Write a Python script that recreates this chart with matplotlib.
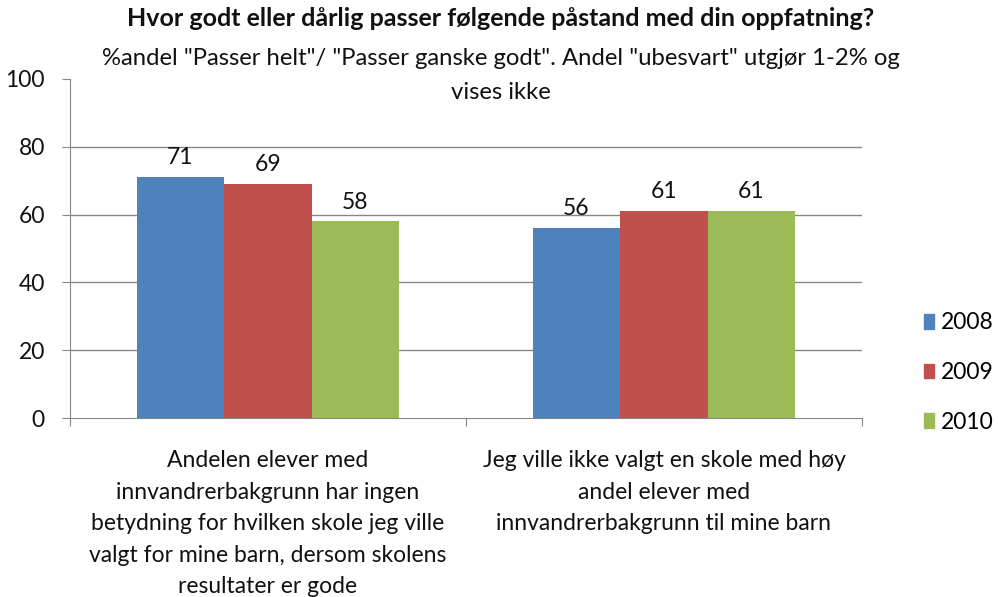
import matplotlib
matplotlib.use("Agg")
import matplotlib.pyplot as plt
import numpy as np

plt.rcParams['font.family'] = ['Lato', 'DejaVu Sans']

categories = ["Andelen elever med\ninnvandrerbakgrunn har ingen\nbetydning for hvilken skole jeg ville\nvalgt for mine barn, dersom skolens\nresultater er gode",
              "Jeg ville ikke valgt en skole med høy\nandel elever med\ninnvandrerbakgrunn til mine barn"]
series_names = ["2008", "2009", "2010"]
values_2008 = [71, 56]
values_2009 = [69, 61]
values_2010 = [58, 61]
colors = ["#4F81BD", "#C0504D", "#9BBB59"]
yticks = [0, 20, 40, 60, 80, 100]

fig = plt.figure(figsize=(9.98, 5.97), dpi=100)
ax = fig.add_axes([0.0701, 0.2998, 0.7936, 0.5679])

x = np.arange(len(categories))
w = 0.221
series = [values_2008, values_2009, values_2010]
for i, (vals, name, c) in enumerate(zip(series, series_names, colors)):
    pos = x + (i - 1) * w
    ax.bar(pos, vals, width=w, color=c, label=name, zorder=3)
    for p, v in zip(pos, vals):
        ax.text(p, v + 2.6, str(v), ha='center', va='bottom', fontsize=16.5, color='#111111')

ax.set_xlim(-0.5, 1.5)
ax.set_ylim(0, 100)
ax.set_yticks(yticks)
ax.set_yticklabels([str(t) for t in yticks], fontsize=16.5, color='#111111')
for t in yticks[1:-1]:
    ax.axhline(t, color='#878787', lw=1.0, zorder=1)

ax.set_xticks([-0.5, 0.5, 1.5])
ax.set_xticklabels([])
ax.tick_params(axis='x', direction='out', length=6, color='#878787')
ax.tick_params(axis='y', direction='out', length=6, color='#878787', pad=12)
for s in ['top', 'right']:
    ax.spines[s].set_visible(False)
for s in ['left', 'bottom']:
    ax.spines[s].set_color('#878787')

for xi, lab in zip(x, categories):
    ax.text(xi, -9.5, lab, ha='center', va='top', fontsize=16.5, linespacing=1.62,
            color='#111111', transform=ax.transData)

fig.text(0.502, 0.969, "Hvor godt eller dårlig passer følgende påstand med din oppfatning?",
         ha='center', va='center', fontsize=18, fontweight='bold', color='#111111')
fig.text(0.502, 0.874, "%andel \"Passer helt\"/ \"Passer ganske godt\". Andel \"ubesvart\" utgjør 1-2% og\nvises ikke",
         ha='center', va='center', fontsize=17.2, linespacing=1.75, color='#111111')

handles = [plt.Rectangle((0, 0), 1, 1, color=c) for c in colors]
fig.legend(handles, series_names, loc='center left', bbox_to_anchor=(0.926, 0.376),
           frameon=False, fontsize=16.5, handlelength=0.45, handleheight=0.6,
           labelspacing=1.25, handletextpad=0.3, borderpad=0, borderaxespad=0)

fig.savefig("out.png", dpi=100)
